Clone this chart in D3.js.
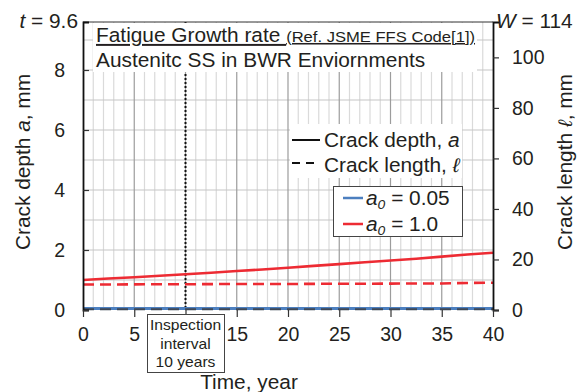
<!DOCTYPE html>
<html>
<head>
<meta charset="utf-8">
<script src="https://cdn.jsdelivr.net/npm/d3@7/dist/d3.min.js"></script>
<style>
  html, body { margin: 0; padding: 0; background: #fff; }
  svg { display: block; }
  text { font-family: "Liberation Sans", Arial, sans-serif; fill: #231f20; }
</style>
</head>
<body>
<script>
// Time axis (years) and the computed crack sizes
const years      = [0, 2.5, 5, 7.5, 10, 12.5, 15, 17.5, 20, 22.5, 25, 27.5, 30, 32.5, 35, 37.5, 40];
const depthA1    = [1.00, 1.05, 1.09, 1.14, 1.19, 1.24, 1.30, 1.35, 1.41, 1.47, 1.53, 1.59, 1.65, 1.71, 1.78, 1.85, 1.91];
const lengthA1   = [10.1, 10.1, 10.15, 10.2, 10.2, 10.25, 10.3, 10.3, 10.3, 10.35, 10.4, 10.4, 10.45, 10.5, 10.5, 10.7, 10.8];
const depthA005  = [0.05, 0.05, 0.05, 0.05, 0.05, 0.05, 0.05, 0.05, 0.05, 0.05, 0.05, 0.05, 0.05, 0.05, 0.05, 0.05, 0.05];
const lengthA005 = [0.3, 0.3, 0.3, 0.3, 0.3, 0.3, 0.3, 0.3, 0.3, 0.3, 0.3, 0.3, 0.3, 0.3, 0.3, 0.3, 0.3];

const xTicks      = [0, 5, 10, 15, 20, 25, 30, 35, 40];
const depthTicks  = [0, 2, 4, 6, 8];
const lengthTicks = [0, 20, 40, 60, 80, 100];
const inspectionYear = 10;
const inspectionNote = ["Inspection", "interval", "10 years"];
const thickness = 9.6;   // t, mm
const plateWidth = 114;  // W, mm

const W = 577, H = 392;
const pL = 83, pR = 493, pT = 22, pB = 310;
const SX = 1.07;         // slightly wide lettering

const svg = d3.select("body").append("svg").attr("width", W).attr("height", H);

// place a text at (tx, ty), optionally rotated, with horizontal stretch
function place(sel, tx, ty, rot = 0, sx = SX) {
  return sel.attr("transform", `translate(${tx},${ty})${rot ? ` rotate(${rot})` : ""} scale(${sx},1)`);
}

const x  = d3.scaleLinear().domain([0, 40]).range([pL, pR]);
const yL = d3.scaleLinear().domain([0, thickness]).range([pB, pT]);
const yR = d3.scaleLinear().domain([0, plateWidth]).range([pB, pT]);

// grid
const grid = svg.append("g");
const minorYears = d3.range(1, 40).filter(d => d % 5 !== 0);
grid.selectAll(".vminor").data(minorYears).join("line")
  .attr("x1", d => x(d)).attr("x2", d => x(d)).attr("y1", pT).attr("y2", pB)
  .attr("stroke", "#dadada").attr("stroke-width", 1.2);
grid.selectAll(".hgrid").data(d3.range(1, 10)).join("line")
  .attr("x1", pL).attr("x2", pR).attr("y1", d => yL(d)).attr("y2", d => yL(d))
  .attr("stroke", "#c6c6c6").attr("stroke-width", 1.2);
grid.selectAll(".vmajor").data(xTicks.slice(1, -1)).join("line")
  .attr("x1", d => x(d)).attr("x2", d => x(d)).attr("y1", pT).attr("y2", pB)
  .attr("stroke", "#9c9c9c").attr("stroke-width", 1.2);

// inspection interval marker
svg.append("line")
  .attr("x1", x(inspectionYear)).attr("x2", x(inspectionYear))
  .attr("y1", pT).attr("y2", pB)
  .attr("stroke", "#111").attr("stroke-width", 2).attr("stroke-dasharray", "2,2");

// title block
svg.append("rect").attr("x", 93).attr("y", pT + 1).attr("width", 384).attr("height", 49).attr("fill", "#fff");
const t1 = place(svg.append("text"), 96, 42).style("text-decoration", "underline");
t1.append("tspan").attr("font-size", 19.5).text("Fatigue Growth rate ");
t1.append("tspan").attr("font-size", 15.5).text("(Ref. JSME FFS Code[1])");
place(svg.append("text"), 96, 67).attr("font-size", 19.5).text("Austenitc SS in BWR Enviornments");

// line-style key
const key1 = svg.append("g");
key1.append("rect").attr("x", 290).attr("y", 124).attr("width", 172).attr("height", 54).attr("fill", "#fff");
key1.append("line").attr("x1", 292).attr("x2", 320).attr("y1", 140).attr("y2", 140).attr("stroke", "#111").attr("stroke-width", 2);
key1.append("line").attr("x1", 292).attr("x2", 320).attr("y1", 163).attr("y2", 163).attr("stroke", "#111").attr("stroke-width", 2).attr("stroke-dasharray", "8,6");
const k1 = place(key1.append("text"), 324, 147).attr("font-size", 19.5);
k1.append("tspan").text("Crack depth, ");
k1.append("tspan").attr("font-style", "italic").text("a");
const k2 = place(key1.append("text"), 324, 172).attr("font-size", 19.5);
k2.append("tspan").text("Crack length, ");
k2.append("tspan").attr("font-style", "italic").text("ℓ");

// series
const red = "#ed2b33", blue = "#4c7fbf";
const lineL = d3.line().x((d, i) => x(years[i])).y(d => yL(d));
const lineR = d3.line().x((d, i) => x(years[i])).y(d => yR(d));
const plot = svg.append("g");
plot.append("path").attr("d", lineR(lengthA1)).attr("fill", "none").attr("stroke", red).attr("stroke-width", 2.6).attr("stroke-dasharray", "11,6");
plot.append("path").attr("d", lineL(depthA1)).attr("fill", "none").attr("stroke", red).attr("stroke-width", 2.6);
plot.append("path").attr("d", lineL(depthA005)).attr("fill", "none").attr("stroke", blue).attr("stroke-width", 3);
plot.append("path").attr("d", lineR(lengthA005)).attr("fill", "none").attr("stroke", "#3d4756").attr("stroke-width", 2).attr("stroke-dasharray", "11,6");

// top border
svg.append("line").attr("x1", pL).attr("x2", pR).attr("y1", pT).attr("y2", pT).attr("stroke", "#333").attr("stroke-width", 1);

// axes
const axL = svg.append("g").attr("transform", `translate(${pL},0)`)
  .call(d3.axisLeft(yL).tickValues(depthTicks).tickSize(-6).tickPadding(18).tickFormat(d3.format("d")));
const axR = svg.append("g").attr("transform", `translate(${pR},0)`)
  .call(d3.axisRight(yR).tickValues(lengthTicks).tickSize(6).tickPadding(13).tickFormat(d3.format("d")));
const axB = svg.append("g").attr("transform", `translate(0,${pB})`)
  .call(d3.axisBottom(x).tickValues(xTicks).tickSize(7).tickPadding(10.5).tickFormat(d3.format("d")));
[axL, axR, axB].forEach(g => {
  g.selectAll("text").attr("font-size", 19.5).attr("font-family", "Liberation Sans, Arial, sans-serif").attr("fill", "#231f20");
  g.selectAll(".tick line").attr("stroke", "#333").attr("stroke-width", 1.2);
});
// the inspection note sits over the year-10 label
axB.selectAll(".tick").filter(d => d === inspectionYear).select("text").remove();
axL.select(".domain").attr("stroke", "#111").attr("stroke-width", 1.8);
axR.select(".domain").attr("stroke", "#111").attr("stroke-width", 1.8);
axB.select(".domain").remove();

// value legend
const key2 = svg.append("g");
key2.append("rect").attr("x", 333.5).attr("y", 186.5).attr("width", 129).attr("height", 50)
  .attr("fill", "#fff").attr("stroke", "#444").attr("stroke-width", 1);
[[blue, "0.05", 198], [red, "1.0", 224]].forEach(([c, v, yy]) => {
  key2.append("line").attr("x1", 343).attr("x2", 363).attr("y1", yy).attr("y2", yy).attr("stroke", c).attr("stroke-width", 2.5);
  const t = place(key2.append("text"), 366, yy + 7).attr("font-size", 19.5);
  t.append("tspan").attr("font-style", "italic").text("a");
  t.append("tspan").attr("font-style", "italic").attr("font-size", 13).attr("dy", 4).text("0");
  t.append("tspan").attr("dy", -4).text(" = " + v);
});

// inspection note
svg.append("rect").attr("x", 147.5).attr("y", 314.5).attr("width", 77).attr("height", 58)
  .attr("fill", "#fff").attr("stroke", "#444").attr("stroke-width", 1);
inspectionNote.forEach((s, i) => {
  place(svg.append("text"), x(inspectionYear), 330 + i * 18.5, 0, 1.1).attr("font-size", 14.2)
    .attr("text-anchor", "middle").text(s);
});

// axis titles
const yt = place(svg.append("text"), 30, 162, -90).attr("text-anchor", "middle").attr("font-size", 19.5);
yt.append("tspan").text("Crack depth ");
yt.append("tspan").attr("font-style", "italic").text("a");
yt.append("tspan").text(",  mm");
const rt = place(svg.append("text"), 572, 162, -90).attr("text-anchor", "middle").attr("font-size", 19.5);
rt.append("tspan").text("Crack length ");
rt.append("tspan").attr("font-style", "italic").text("ℓ");
rt.append("tspan").text(", mm");
place(svg.append("text"), 249, 389).attr("text-anchor", "middle").attr("font-size", 19.5).text("Time, year");

const tl = place(svg.append("text"), 78, 28).attr("text-anchor", "end").attr("font-size", 19.5);
tl.append("tspan").attr("font-style", "italic").text("t");
tl.append("tspan").text(" = " + thickness);
const wl = place(svg.append("text"), 496, 28).attr("font-size", 19.5);
wl.append("tspan").attr("font-style", "italic").text("W");
wl.append("tspan").text(" = " + plateWidth);
</script>
</body>
</html>
